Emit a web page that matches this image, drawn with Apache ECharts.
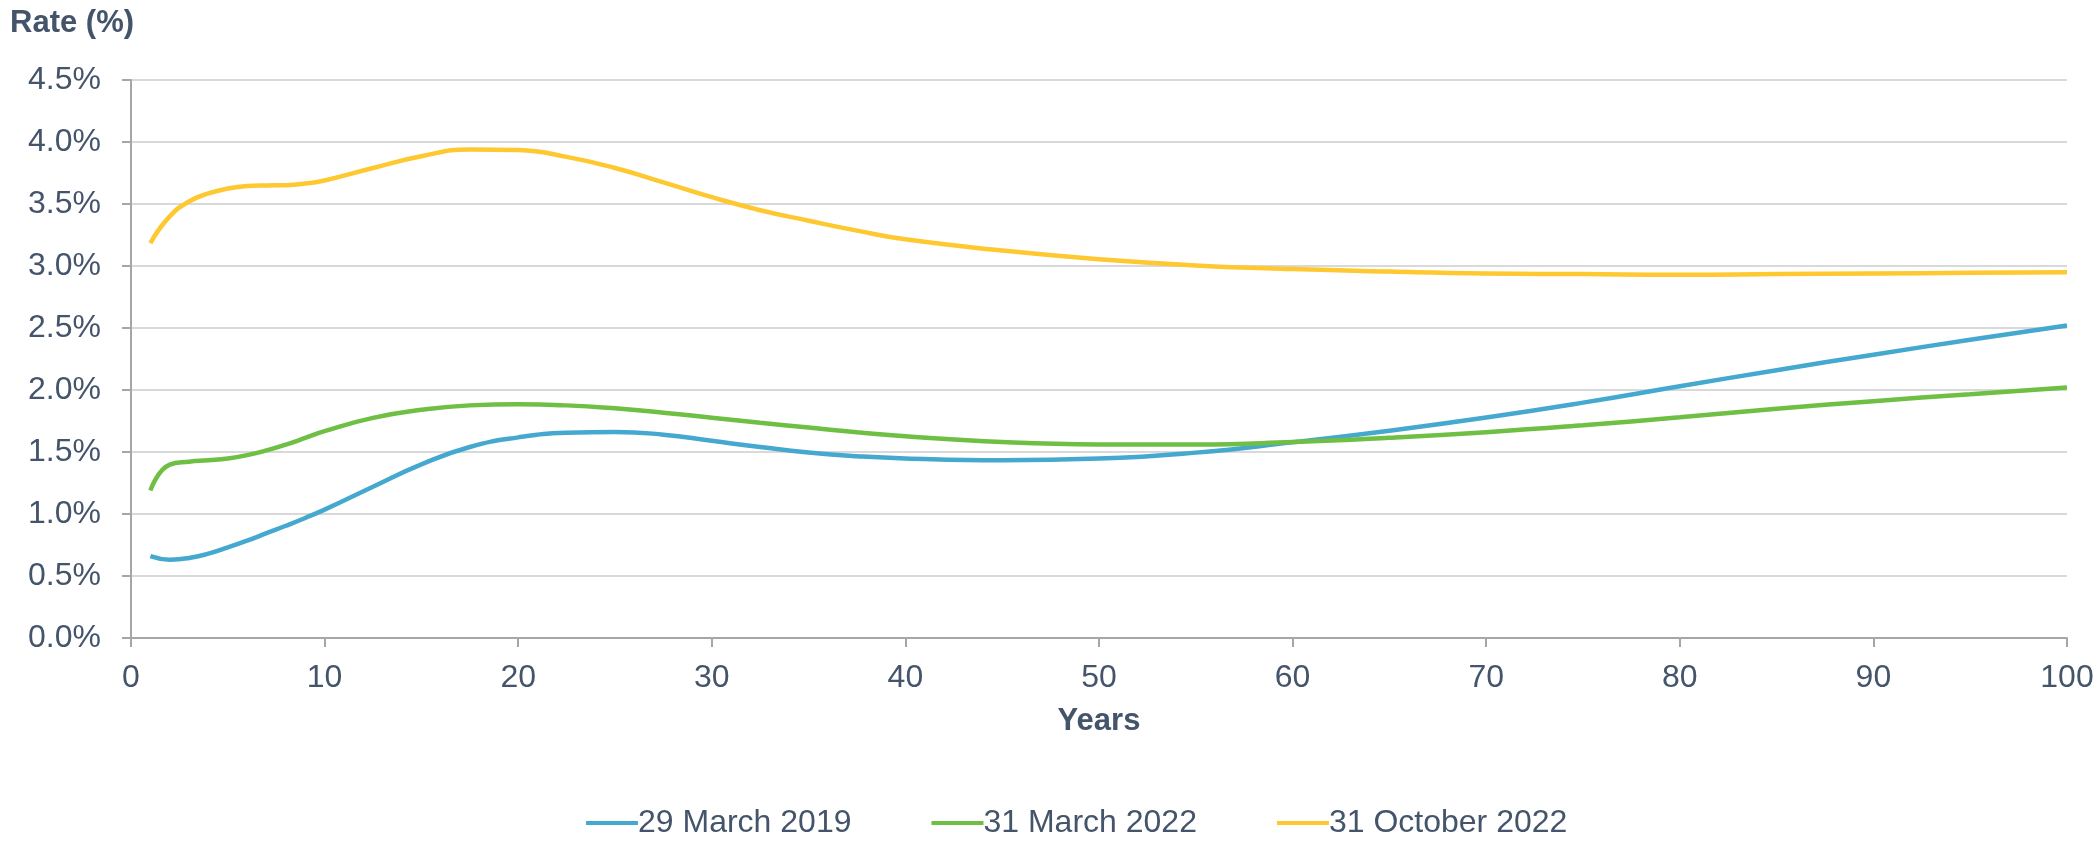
<!DOCTYPE html>
<html>
<head>
<meta charset="utf-8">
<script src="https://cdn.jsdelivr.net/npm/echarts@6/dist/echarts.min.js"></script>
<style>
  html, body { margin: 0; padding: 0; background: #fff; }
  #chart { width: 2100px; height: 843px; }
</style>
</head>
<body>
<div id="chart"></div>
<script>
// 期限（年）
const years = [1, 2, 3, 4, 5, 6, 7, 8, 9, 10, 12.5, 15, 17.5, 20, 22.5, 25, 27.5, 30, 32.5, 35, 37.5, 40, 45, 50, 55, 60, 65, 70, 75, 80, 85, 90, 95, 100]

// 各日期的利率曲线 (%)
const march2019 = [0.66, 0.632, 0.645, 0.68, 0.73, 0.785, 0.845, 0.905, 0.968, 1.035, 1.22, 1.4, 1.54, 1.618, 1.655, 1.662, 1.64, 1.59, 1.54, 1.496, 1.466, 1.448, 1.434, 1.447, 1.495, 1.578, 1.672, 1.778, 1.898, 2.03, 2.16, 2.285, 2.405, 2.52]
const march2022 = [1.19, 1.398, 1.422, 1.433, 1.448, 1.475, 1.513, 1.56, 1.613, 1.668, 1.775, 1.84, 1.876, 1.885, 1.876, 1.852, 1.817, 1.777, 1.736, 1.697, 1.66, 1.627, 1.58, 1.561, 1.56, 1.58, 1.615, 1.66, 1.716, 1.78, 1.848, 1.91, 1.966, 2.02]
const october2022 = [3.185, 3.4, 3.52, 3.585, 3.625, 3.645, 3.65, 3.652, 3.665, 3.69, 3.79, 3.885, 3.94, 3.935, 3.88, 3.79, 3.675, 3.555, 3.45, 3.365, 3.285, 3.215, 3.125, 3.055, 3.005, 2.975, 2.955, 2.94, 2.935, 2.93, 2.935, 2.94, 2.945, 2.95]

const seriesNames = ["29 March 2019", "31 March 2022", "31 October 2022"]
const seriesColors = ["#45a9cf", "#6fbf44", "#fec831"]

const textColor = "#44546a"
const font = "'Liberation Sans', Arial, sans-serif"

const toPairs = (arr) => arr.map((v, i) => [years[i], v])

const makeLine = (name, data, color) => ({
  name: name,
  type: "line",
  data: toPairs(data),
  smooth: 0.5,
  showSymbol: false,
  symbol: "none",
  lineStyle: { color: color, width: 4.5 },
  itemStyle: { color: color },
})

const myChart = echarts.init(document.getElementById("chart"))

const option = {
  animation: false,
  textStyle: { fontFamily: font },
  title: {
    text: "Rate (%)",
    left: 5,
    top: 3,
    textStyle: { color: textColor, fontSize: 31, fontWeight: "bold", fontFamily: font },
  },
  legend: {
    top: 802,
    left: 581,
    itemWidth: 52,
    itemHeight: 4,
    itemGap: 80,
    icon: "rect",
    data: seriesNames,
    textStyle: { color: textColor, fontSize: 32, fontFamily: font, padding: [0, 0, 0, -5] },
  },
  grid: {
    left: 131,
    right: 33,
    top: 80,
    bottom: 205,
  },
  xAxis: {
    type: "value",
    min: 0,
    max: 100,
    interval: 10,
    name: "Years",
    nameLocation: "middle",
    nameGap: 68,
    nameTextStyle: { color: textColor, fontSize: 31, fontWeight: "bold" },
    axisLine: { lineStyle: { color: "#a6a6a6", width: 2 } },
    axisTick: { show: true, length: 9, lineStyle: { color: "#a6a6a6", width: 2 } },
    axisLabel: { color: textColor, fontSize: 32, margin: 24 },
    splitLine: { show: false },
  },
  yAxis: {
    type: "value",
    min: 0,
    max: 4.5,
    interval: 0.5,
    axisLine: { show: true, lineStyle: { color: "#a6a6a6", width: 2 } },
    axisTick: { show: true, length: 9, lineStyle: { color: "#a6a6a6", width: 2 } },
    axisLabel: {
      color: textColor,
      fontSize: 32,
      margin: 30,
      formatter: (v) => v.toFixed(1) + "%",
    },
    splitLine: { lineStyle: { color: "#d9d9d9", width: 2 } },
  },
  series: [
    makeLine(seriesNames[0], march2019, seriesColors[0]),
    makeLine(seriesNames[1], march2022, seriesColors[1]),
    makeLine(seriesNames[2], october2022, seriesColors[2]),
  ],
}

myChart.setOption(option)
</script>
</body>
</html>
